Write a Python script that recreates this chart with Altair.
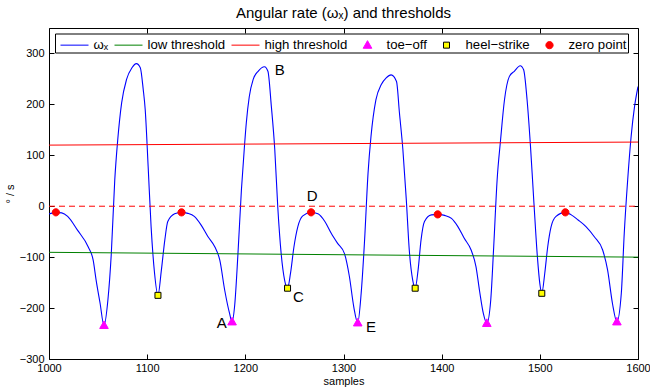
import altair as alt
import pandas as pd

FONT = "Liberation Sans"
W, H = 589, 331

# ---- data ----
wx_x = [1000, 1007, 1013, 1019, 1029, 1040, 1045, 1048, 1052, 1056, 1060, 1063.5, 1067, 1070, 1074,
        1079, 1084.5, 1089, 1093, 1096, 1098, 1101, 1104, 1107.5, 1111, 1114.5, 1118, 1121, 1128,
        1135, 1141.5, 1148, 1155, 1162, 1169, 1174, 1179, 1184, 1186.5, 1189, 1192.5, 1196, 1199,
        1201, 1204, 1208, 1213, 1219.5, 1223, 1226.5, 1230, 1233, 1236.5, 1240, 1243, 1246, 1249.5,
        1253.5, 1258.5, 1267, 1274, 1281, 1287.5, 1294, 1301, 1306, 1310.5, 1314.5, 1318, 1321.5,
        1325, 1328, 1333, 1338.5, 1343.5, 1348.5, 1354, 1357, 1360.5, 1364, 1367, 1370.5, 1373,
        1376, 1379, 1382.5, 1389.5, 1396, 1403, 1410, 1416.5, 1423, 1430, 1435, 1438.5, 1442.5,
        1446, 1450, 1453, 1456.5, 1460, 1464, 1469, 1474, 1480, 1483.5, 1487, 1490.5, 1494, 1497.5,
        1500, 1502, 1505, 1508, 1511.5, 1516.5, 1526, 1532, 1539, 1547, 1555.5, 1564, 1569, 1574,
        1578.5, 1583, 1586, 1589.5, 1593, 1596.5, 1600]
wx_y = [-15, -12, -13, -20, -47, -80, -106, -145, -190, -234, -184, -92, 52, 130, 203,
        249, 272, 280, 272, 229, 190, 78, -40, -131, -175, -125, -66, -30, -15,
        -12, -14, -20, -37, -60, -80, -106, -165, -211, -227, -198, -93, 32, 115,
        164, 215, 249, 265, 274, 265, 196, 111, 0, -93, -145, -161, -132, -80,
        -40, -19, -12, -15, -30, -53, -73, -93, -138, -198, -229, -171, -66,
        65, 137, 209, 239, 252, 258, 245, 183, 111, 12, -86, -145, -161,
        -125, -66, -30, -17, -16, -18, -24, -40, -63, -86, -119, -165, -211,
        -230, -184, -80, 52, 130, 209, 255, 265, 276, 268, 209, 117, 6, -99,
        -152, -171, -132, -80, -40, -20, -12, -17, -27, -40, -60, -86, -125, -191,
        -227, -171, -53, 52, 137, 196, 235]

low_x = [1000, 1600]
low_y = [-90.5, -100]
high_x = [1000, 1600]
high_y = [120, 126]
zero_x = [1000, 1600]
zero_y = [0, 0]

toe_x = [1056, 1186.5, 1314.5, 1446, 1578.5]
toe_y = [-234, -227, -229, -230, -227]
heel_x = [1111, 1243, 1373, 1502]
heel_y = [-175, -161, -161, -171]
zp_x = [1007, 1135, 1267, 1396, 1526]
zp_y = [-12, -12, -12, -16, -12]

ann_text = ["A", "B", "C", "D", "E"]
ann_x = [1176, 1235, 1254, 1268, 1328]
ann_y = [-230, 268, -179, 20, -238]

series = ["ωₓ", "low threshold", "high threshold", "toe−off", "heel−strike", "zero point"]
x_ticks = [1000, 1100, 1200, 1300, 1400, 1500, 1600]
y_ticks = [-300, -200, -100, 0, 100, 200, 300]

# ---- styles ----
stroke_range = ["#0000ff", "#008000", "#ff0000", "#ff00ff", "#000000", "#ff0000"]
fill_range = ["#0000ff", "#008000", "#ff0000", "#ff00ff", "#ffff00", "#ff0000"]
SYM = 400  # symbol area; custom paths are scaled by sqrt(SYM)/2 = 10 px
LINE = "M-1.4,0L1.4,0"
TRI = "M0,-0.45L0.43,0.31L-0.43,0.31Z"
SQR = "M-0.3,-0.3L0.3,-0.3L0.3,0.3L-0.3,0.3Z"
CIR = "M-0.36,0A0.36,0.36,0,1,0,0.36,0A0.36,0.36,0,1,0,-0.36,0Z"
shape_range = [LINE, LINE, LINE, TRI, SQR, CIR]

curve_df = pd.DataFrame({"x": wx_x, "y": wx_y})
low_df = pd.DataFrame({"x": low_x, "y": low_y})
high_df = pd.DataFrame({"x": high_x, "y": high_y})
zero_df = pd.DataFrame({"x": zero_x, "y": zero_y})
mk_df = pd.concat([
    pd.DataFrame({"x": toe_x, "y": toe_y, "series": series[3]}),
    pd.DataFrame({"x": heel_x, "y": heel_y, "series": series[4]}),
    pd.DataFrame({"x": zp_x, "y": zp_y, "series": series[5]}),
])
ann_df = pd.DataFrame({"x": ann_x, "y": ann_y, "t": ann_text})

xs = alt.Scale(domain=[1000, 1600], nice=False, zero=False)
ys = alt.Scale(domain=[-300, 350], nice=False, zero=False)
stroke_scale = alt.Scale(domain=series, range=stroke_range)
fill_scale = alt.Scale(domain=series, range=fill_range)
shape_scale = alt.Scale(domain=series, range=shape_range)

tick_only = dict(labels=False, ticks=True, tickSize=5, domain=False, grid=False, title=None)
ax_x_main = alt.Axis(values=x_ticks, title="samples", ticks=False, domain=False, grid=False,
                     labelFlush=False, labelOverlap=False, labelPadding=3, titlePadding=2,
                     labelFontSize=11, titleFontSize=11, format="d")
ax_y_main = alt.Axis(values=y_ticks, title="° / s", ticks=False, domain=False, grid=False,
                     labelFlush=False, labelOverlap=False, labelPadding=5, titlePadding=4,
                     labelFontSize=11, titleFontSize=11)
ax_x_in_b = alt.Axis(orient="top", offset=-H, values=x_ticks, **tick_only)
ax_x_in_t = alt.Axis(orient="bottom", offset=-H, values=x_ticks, **tick_only)
ax_y_in_l = alt.Axis(orient="right", offset=-W, values=y_ticks, **tick_only)
ax_y_in_r = alt.Axis(orient="left", offset=-W, values=y_ticks, **tick_only)

legend = alt.Legend(title=None, orient="none", legendX=6, legendY=5.5, direction="horizontal",
                    symbolSize=SYM, symbolStrokeWidth=1, symbolOffset=8,
                    labelFont=FONT, labelFontSize=13.2,
                    labelOffset=8.5, columnPadding=1, padding=1, strokeColor="black",
                    fillColor="white", cornerRadius=0, labelLimit=300, symbolOpacity=1)

curve = alt.Chart(curve_df).mark_line(strokeWidth=1.1, interpolate="monotone", clip=True,
                                      color=stroke_range[0]).encode(
    x=alt.X("x:Q", scale=xs, axis=ax_x_main),
    y=alt.Y("y:Q", scale=ys, axis=ax_y_main),
)
low = alt.Chart(low_df).mark_line(strokeWidth=1, color=stroke_range[1]).encode(
    x=alt.X("x:Q", scale=xs, axis=ax_x_in_b),
    y=alt.Y("y:Q", scale=ys, axis=ax_y_in_l),
)
high = alt.Chart(high_df).mark_line(strokeWidth=1, color=stroke_range[2]).encode(
    x=alt.X("x:Q", scale=xs, axis=ax_x_in_t),
    y=alt.Y("y:Q", scale=ys, axis=ax_y_in_r),
)
zero = alt.Chart(zero_df).mark_line(strokeWidth=1, color="#ff0000", strokeDash=[6, 4]).encode(
    x=alt.X("x:Q", scale=xs, axis=None),
    y=alt.Y("y:Q", scale=ys, axis=None),
)
markers = alt.Chart(mk_df).mark_point(filled=True, size=SYM, opacity=1, strokeWidth=1).encode(
    x=alt.X("x:Q", scale=xs, axis=None),
    y=alt.Y("y:Q", scale=ys, axis=None),
    fill=alt.Fill("series:N", scale=fill_scale, legend=legend),
    stroke=alt.Stroke("series:N", scale=stroke_scale, legend=legend),
    shape=alt.Shape("series:N", scale=shape_scale, legend=legend),
)
labels = alt.Chart(ann_df).mark_text(font=FONT, fontSize=15, color="black",
                                     align="center", baseline="middle").encode(
    x=alt.X("x:Q", scale=xs, axis=None),
    y=alt.Y("y:Q", scale=ys, axis=None),
    text="t:N",
)

chart = alt.layer(curve, low, high, zero, markers, labels).resolve_axis(
    x="independent", y="independent"
).properties(
    width=W, height=H,
    title=alt.TitleParams("Angular rate (ωₓ) and thresholds", font=FONT, fontSize=15,
                          fontWeight="normal", anchor="middle", offset=7, color="black"),
    autosize=alt.AutoSizeParams(type="none"),
    padding={"left": 49, "top": 28, "right": 12, "bottom": 33},
).configure_view(stroke="black", strokeWidth=1).configure_axis(
    labelFont=FONT, titleFont=FONT, labelColor="black", titleColor="black",
    tickColor="black", titleFontWeight="normal",
)

chart.save("out.html", embed_options={"renderer": "svg", "actions": False})
